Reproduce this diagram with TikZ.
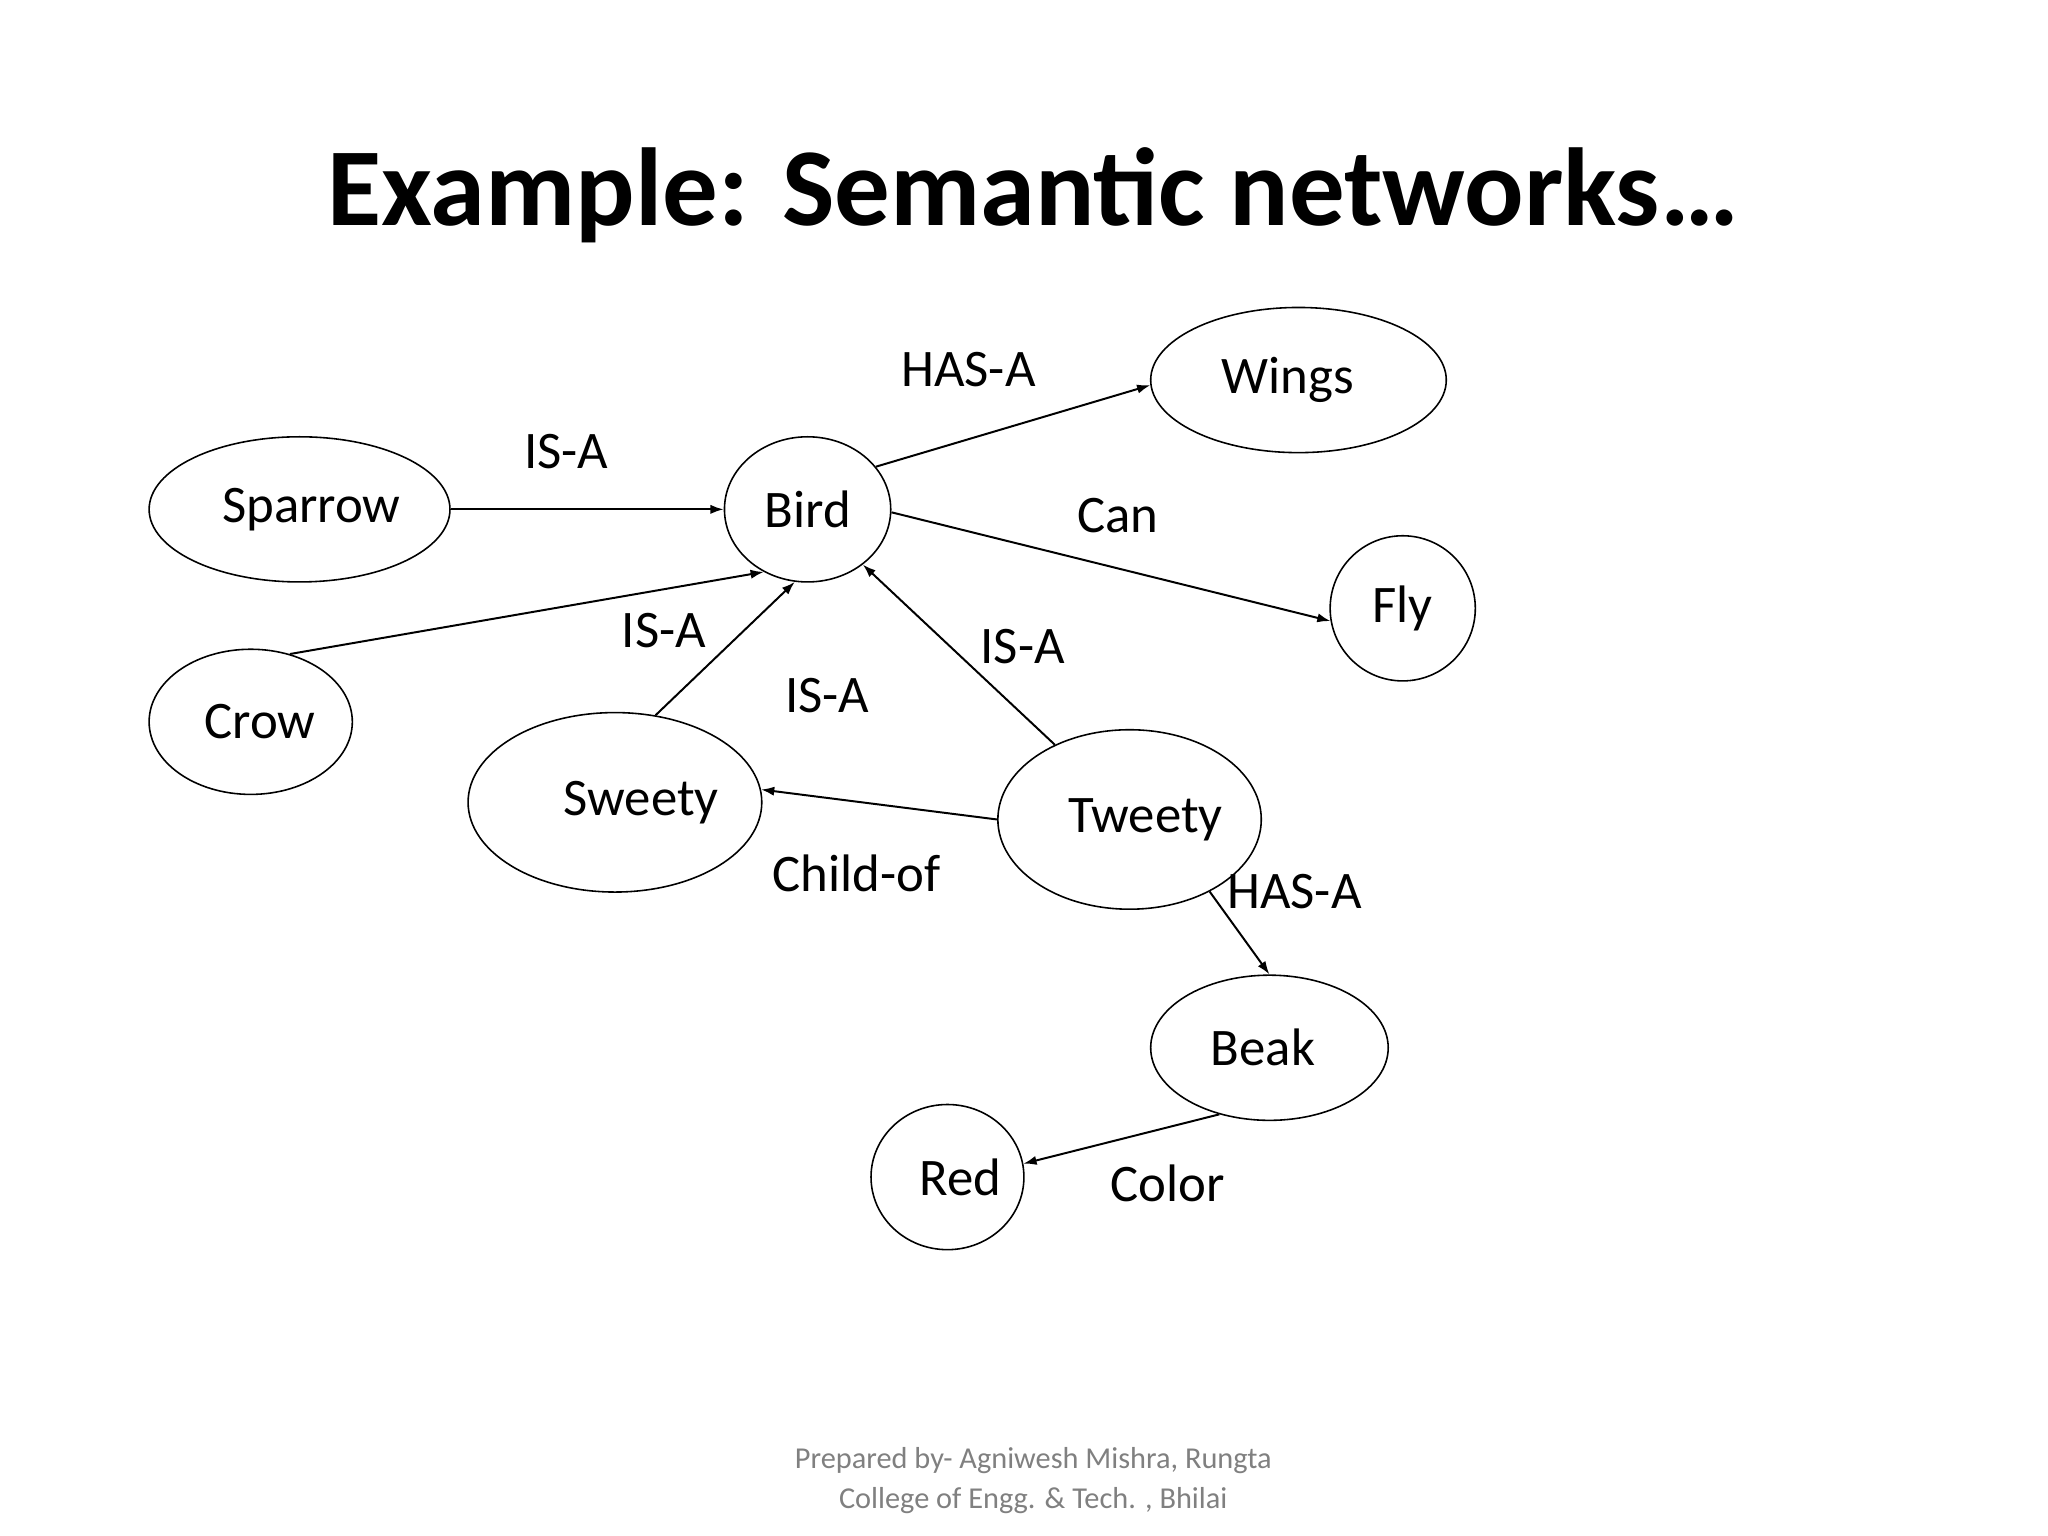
\documentclass[tikz,border=0pt]{standalone}
\usepackage{fontspec}
\setmainfont{Carlito}
\usetikzlibrary{shapes.geometric,arrows.meta}
\begin{document}
\begin{tikzpicture}[x=1pt,y=-1pt,
  el/.style={draw,ellipse,line width=1.2pt,inner sep=0pt,font=\fontsize{40}{44}\selectfont},
  lab/.style={font=\fontsize{40}{44}\selectfont},
  ar/.style={-{Latex[length=10pt,width=7pt]},line width=1.5pt}]
\useasboundingbox (0,0) rectangle (1552,1164);
\node[font=\bfseries\fontsize{84}{90}\selectfont] (title) at (783,148) {Example: Semantic networks…};
\node[el,minimum width=228,minimum height=110] (sparrow) at (227,386) {\hspace*{18pt}Sparrow};
\node[el,minimum width=126,minimum height=110] (bird) at (612,386) {Bird};
\node[el,minimum width=224,minimum height=110] (wings) at (984,288) {\hspace*{-16pt}Wings};
\node[el,minimum width=110,minimum height=110] (fly) at (1063,461) {Fly};
\node[el,minimum width=154,minimum height=110] (crow) at (190,547) {\hspace*{14pt}Crow};
\node[el,minimum width=168,minimum height=136] (sweety) at (466,608) {\hspace*{40pt}Sweety};
\node[el,minimum width=190,minimum height=136] (tweety) at (856,621) {\hspace*{24pt}Tweety};
\node[el,minimum width=180,minimum height=110] (beak) at (962,794) {\hspace*{-10pt}Beak};
\node[el,minimum width=110,minimum height=110] (red) at (718,892) {\hspace*{20pt}Red};
\draw[ar] (sparrow) -- (bird);
\draw[ar] (crow.60) -- (bird.235);
\draw[ar] (sweety.65) -- (bird.260);
\draw[ar] (tweety.135) -- (bird.315);
\draw[ar] (bird.32) -- (wings.182);
\draw[ar] (bird.358) -- (fly.190);
\draw[ar] (tweety.180) -- (sweety.5);
\draw[ar] (tweety.318) -- (beak.90);
\draw[ar] (beak.233) -- (red.10);
\node[lab] (l1) at (429,342) {IS-A};
\node[lab] (l2) at (734,280) {HAS-A};
\node[lab] (l3) at (847,391) {Can};
\node[lab] (l4) at (503,478) {IS-A};
\node[lab] (l5) at (627,527) {IS-A};
\node[lab] (l6) at (775,490) {IS-A};
\node[lab] (l7) at (649,662) {Child-of};
\node[lab] (l8) at (981,676) {HAS-A};
\node[lab] (l9) at (885,897) {Color};
\node[text=gray,align=center,font=\fontsize{23}{31}\selectfont] (foot) at (783,1122) {Prepared by- Agniwesh Mishra, Rungta\\College of Engg. \& Tech. , Bhilai};
\end{tikzpicture}
\end{document}
